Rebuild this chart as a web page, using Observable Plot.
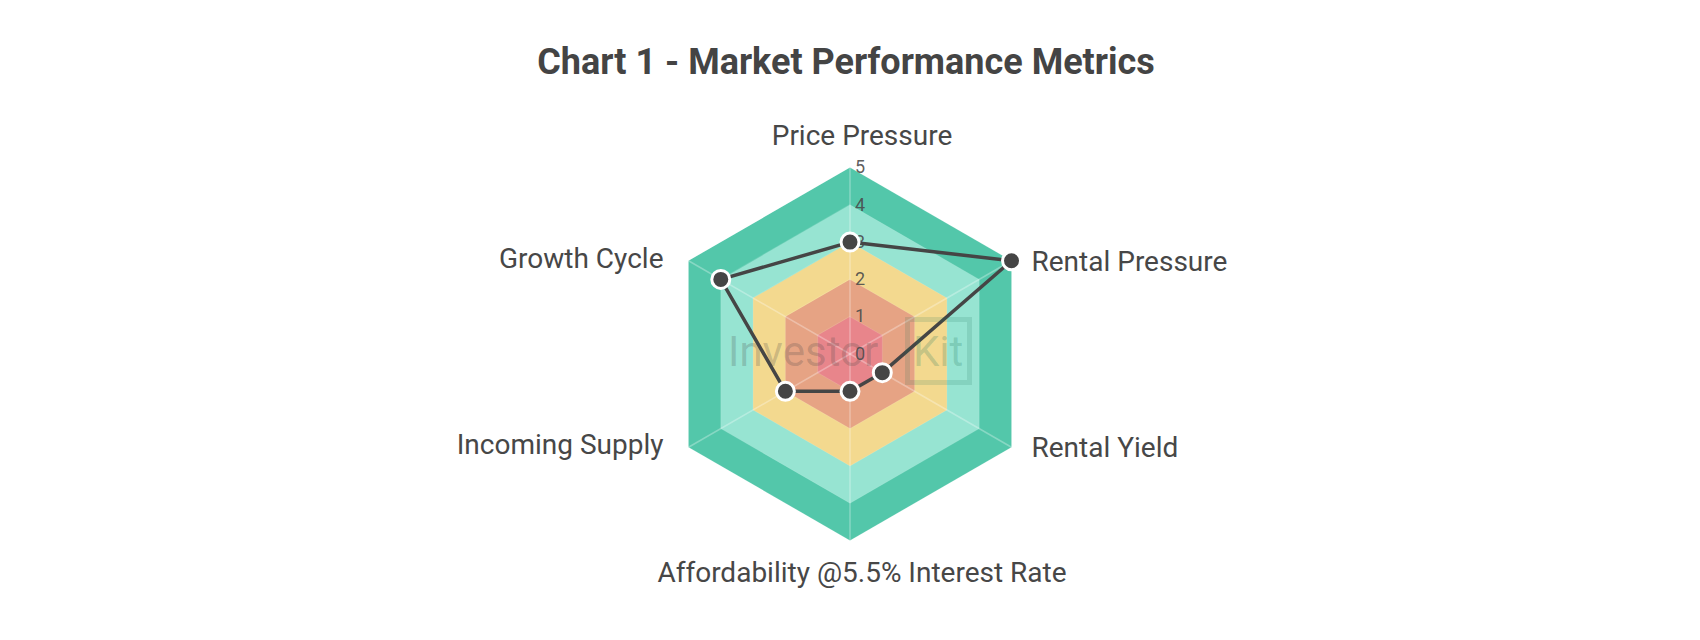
<!DOCTYPE html>
<html>
<head>
<meta charset="utf-8">
<script src="https://cdn.jsdelivr.net/npm/d3@7"></script>
<script src="https://cdn.jsdelivr.net/npm/@observablehq/plot@0.6"></script>
<style>
  html, body { margin: 0; padding: 0; background: #ffffff; }
  #page { position: relative; width: 1700px; height: 640px; overflow: hidden; font-family: Roboto, "Open Sans", sans-serif; }
  #title { position: absolute; top: 44px; left: 0; width: 1692px; text-align: center;
           font: 700 36px/36px Roboto, sans-serif; color: #444444; }
  #chart { position: absolute; top: 100px; left: 0; }
  .wm { position: absolute; font: 400 42px/42px Roboto, sans-serif; pointer-events: none; }
  #wm1 { left: 728px; top: 331px; color: rgba(70,70,70,0.24); }
  #wm2 { left: 913px; top: 331px; color: rgba(40,120,95,0.24); }
  #wmbox { position: absolute; left: 905px; top: 317px; width: 57px; height: 58px;
           border: 5px solid rgba(40,120,95,0.16); pointer-events: none; }
</style>
</head>
<body>
<div id="page">
  <div id="title">Chart 1 - Market Performance Metrics</div>
  <div id="chart"></div>
  <div id="wmbox"></div>
  <div class="wm" id="wm1">Investor</div>
  <div class="wm" id="wm2">Kit</div>
</div>
<script>
// ---- data ----
const categories = [
  "Price Pressure",
  "Rental Pressure",
  "Rental Yield",
  "Affordability @5.5% Interest Rate",
  "Incoming Supply",
  "Growth Cycle"
];
const values = [3, 5, 1, 1, 2, 4];
const bandLevels = [5, 4, 3, 2, 1];
const tickValues = [0, 1, 2, 3, 4, 5];

// ---- styles ----
const bandColors = {5: "#53c7aa", 4: "#97e4d2", 3: "#f3d98f", 2: "#e6a384", 1: "#e8858b"};
const ink = "#454545";

const n = categories.length;
const ang = i => (i * 2 * Math.PI) / n;
const px = (r, i) => r * Math.sin(ang(i));
const py = (r, i) => r * Math.cos(ang(i));

const bandRows = bandLevels.flatMap(L => categories.map((c, i) => ({level: L, i})));
const series = categories.map((c, i) => ({name: c, i, v: values[i]}));
const spokes = categories.map((c, i) => ({i}));

const chart = Plot.plot({
  width: 1700,
  height: 540,
  marginLeft: 663,
  marginRight: 664,
  marginTop: 67,
  marginBottom: 100,
  x: {domain: [-5, 5], axis: null},
  y: {domain: [-5, 5], axis: null},
  color: {type: "identity"},
  style: {fontFamily: "Roboto, sans-serif", background: "transparent", overflow: "visible"},
  marks: [
    Plot.line(bandRows, {
      x: d => px(d.level, d.i), y: d => py(d.level, d.i), z: "level",
      fill: d => bandColors[d.level], stroke: "none", curve: "linear-closed"
    }),
    Plot.line(bandRows, {
      x: d => px(d.level, d.i), y: d => py(d.level, d.i), z: "level",
      fill: "none", stroke: "#ffffff", strokeOpacity: 0.12, strokeWidth: 1, curve: "linear-closed"
    }),
    Plot.link(spokes, {
      x1: d => 0, y1: d => 0, x2: d => px(5, d.i), y2: d => py(5, d.i),
      stroke: "#ffffff", strokeOpacity: 0.3, strokeWidth: 1.5
    }),
    Plot.text(tickValues, {
      x: d => 0, y: d => d, text: d => String(d),
      dx: 10, fontSize: 18, fill: "#4a4a4a", fillOpacity: 0.9
    }),
    Plot.line(series, {
      x: d => px(d.v, d.i), y: d => py(d.v, d.i),
      stroke: ink, strokeWidth: 3.5, curve: "linear-closed"
    }),
    Plot.dot(series, {
      x: d => px(d.v, d.i), y: d => py(d.v, d.i),
      r: 9, fill: ink, stroke: "#ffffff", strokeWidth: 3
    }),
    // category labels
    Plot.text(series, {
      filter: d => d.i === 0,
      x: d => px(5, d.i), y: d => py(5, d.i), text: "name",
      textAnchor: "middle", lineAnchor: "bottom", dx: 12, dy: -23,
      fontSize: 28, fill: "#474747"
    }),
    Plot.text(series, {
      filter: d => d.i === 3,
      x: d => px(5, d.i), y: d => py(5, d.i), text: "name",
      textAnchor: "middle", lineAnchor: "top", dx: 12, dy: 22,
      fontSize: 28, fill: "#474747"
    }),
    Plot.text(series, {
      filter: d => d.i === 1 || d.i === 2,
      x: d => px(5, d.i), y: d => py(5, d.i), text: "name",
      textAnchor: "start", lineAnchor: "middle", dx: 20, dy: 1,
      fontSize: 28, fill: "#474747"
    }),
    Plot.text(series, {
      filter: d => d.i === 4 || d.i === 5,
      x: d => px(5, d.i), y: d => py(5, d.i), text: "name",
      textAnchor: "end", lineAnchor: "middle", dx: -25, dy: -2,
      fontSize: 28, fill: "#474747"
    })
  ]
});
document.getElementById("chart").appendChild(chart);
</script>
</body>
</html>
